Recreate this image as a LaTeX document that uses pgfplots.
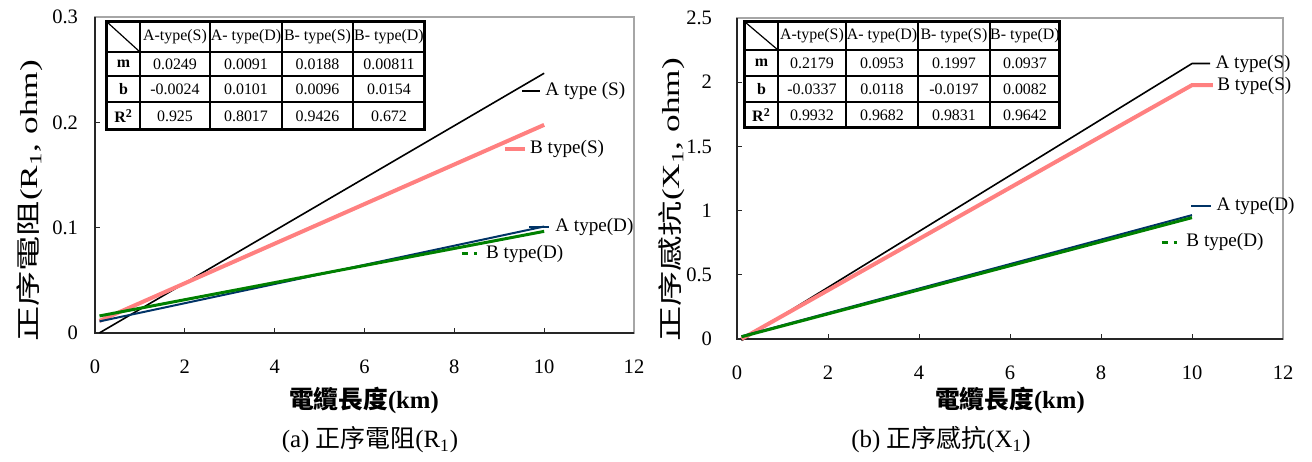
\documentclass[border=0pt]{standalone}
\usepackage{fontspec}
\setmainfont{Liberation Serif}
\newfontfamily\cjk{Noto Sans CJK TC}
\usepackage{graphicx}
\usepackage{pgfplots}
\pgfplotsset{compat=1.18}
\definecolor{pinkS}{HTML}{FF8080}
\definecolor{navyD}{HTML}{003366}
\definecolor{greenD}{HTML}{008000}
\pgfplotsset{mystyle/.style={
  scale only axis, anchor=south west,
  xmin=0, xmax=12, xtick={0,2,...,12},
  xtick pos=bottom, ytick pos=left,
  axis line style={draw=gray!70, line width=0.6bp},
  tick align=inside, major tick length=2.5bp,
  tick style={black!85, line width=0.5bp},
  /pgf/number format/assume math mode=true,
  ticklabel style={font=\fontsize{10.3}{12}\selectfont},
  xticklabel style={yshift=-10bp},
  yticklabel style={xshift=-5bp},
  clip=false,
}}
\newcommand{\lbl}{\fontsize{9.6}{11}\selectfont}
\begin{document}
\begin{tikzpicture}
% ---------- left axis ----------
\begin{axis}[mystyle, at={(47.5bp,64.5bp)}, width=269.5bp, height=158bp,
  ymin=0, ymax=0.3, ytick={0,0.1,0.2,0.3}]
\draw[black!85, line width=1bp] (rel axis cs:0,1) -- (rel axis cs:0,0) -- (rel axis cs:1,0);
\addplot[black, line width=0.8bp] coordinates {(0.1,0.0001) (10,0.2466)};
\addplot[pinkS, line width=2bp] coordinates {(0.1,0.0115) (10,0.1976)};
\addplot[navyD, line width=1bp] coordinates {(0.1,0.0110) (10,0.1011)};
\addplot[greenD, line width=1.5bp] coordinates {(0.1,0.0162) (10,0.0965)};
% keys
\addplot[black, line width=0.8bp] coordinates {(9.51,0.2298) (9.91,0.2298)};
\addplot[pinkS, line width=2bp] coordinates {(9.13,0.1747) (9.57,0.1747)};
\addplot[navyD, line width=1bp] coordinates {(9.66,0.1006) (10.11,0.1006)};
\addplot[greenD, line width=1.5bp, dash pattern=on 3bp off 3bp on 1.5bp off 3bp] coordinates {(8.17,0.075) (8.61,0.075)};
\node[anchor=west, inner sep=0pt, font=\lbl] at (axis cs:10.02,0.2298) {A type (S)};
\node[anchor=west, inner sep=0pt, font=\lbl] at (axis cs:9.68,0.1747) {B type(S)};
\node[anchor=west, inner sep=0pt, font=\lbl] at (axis cs:10.24,0.1006) {A type(D)};
\node[anchor=west, inner sep=0pt, font=\lbl] at (axis cs:8.70,0.075) {B type(D)};
\end{axis}
% ---------- right axis ----------
\begin{axis}[mystyle, at={(368.5bp,61.5bp)}, width=273bp, height=160.5bp,
  ymin=0, ymax=2.5, ytick={0,0.5,1,1.5,2,2.5}, yticklabel style={xshift=-4bp}]
\draw[black!85, line width=1bp] (rel axis cs:0,1) -- (rel axis cs:0,0) -- (rel axis cs:1,0);
\addplot[black, line width=0.8bp] coordinates {(0.1,-0.012) (10,2.1453) (10.40,2.1453)};
\addplot[pinkS, line width=2bp] coordinates {(0.1,0.0003) (10,1.9773) (10.46,1.9773)};
\addplot[navyD, line width=1bp] coordinates {(0.1,0.0213) (10,0.9648)};
\addplot[greenD, line width=1.5bp] coordinates {(0.1,0.0176) (10,0.9452)};
% keys
\addplot[navyD, line width=1bp] coordinates {(9.98,1.036) (10.42,1.036)};
\addplot[greenD, line width=1.5bp, dash pattern=on 3bp off 3bp on 1.5bp off 3bp] coordinates {(9.34,0.755) (9.76,0.755)};
\node[anchor=west, inner sep=0pt, font=\lbl] at (axis cs:10.51,2.142) {A type(S)};
\node[anchor=west, inner sep=0pt, font=\lbl] at (axis cs:10.55,1.970) {B type(S)};
\node[anchor=west, inner sep=0pt, font=\lbl] at (axis cs:10.53,1.036) {A type(D)};
\node[anchor=west, inner sep=0pt, font=\lbl] at (axis cs:9.87,0.755) {B type(D)};
\end{axis}
% ---------- annotations in pixel coordinates ----------
\begin{scope}[x=0.5bp, y=-0.5bp, yshift=231bp]
% left table
\fill[white] (107,22) rectangle (425,130);
\foreach \xx in {140,210,282,353} \draw[line width=0.6bp] (\xx,22) -- (\xx,130);
\foreach \yy in {52,76,102} \draw[line width=0.6bp] (107,\yy) -- (425,\yy);
\draw[line width=0.6bp] (107,22) -- (140,52);
\draw[line width=1.5bp] (107,22) rectangle (425,130);
\begin{scope}[every node/.style={font=\fontsize{8}{9}\selectfont, inner sep=0pt}]
\node at (175,37) {A-type(S)}; \node at (246,37) {A- type(D)};
\node at (317.5,37) {B- type(S)}; \node at (389,37) {B- type(D)};
\node at (123.5,64) {\bfseries m}; \node at (123.5,89) {\bfseries b}; \node at (123.5,116) {\bfseries R\textsuperscript{2}};
\node at (175,64) {0.0249}; \node at (246,64) {0.0091}; \node at (317.5,64) {0.0188}; \node at (389,64) {0.00811};
\node at (175,89) {-0.0024}; \node at (246,89) {0.0101}; \node at (317.5,89) {0.0096}; \node at (389,89) {0.0154};
\node at (175,116) {0.925}; \node at (246,116) {0.8017}; \node at (317.5,116) {0.9426}; \node at (389,116) {0.672};
\end{scope}
% right table
\fill[white] (745,22) rectangle (1060,128);
\foreach \xx in {778,846,918,990} \draw[line width=0.6bp] (\xx,22) -- (\xx,128);
\foreach \yy in {50,76,102} \draw[line width=0.6bp] (745,\yy) -- (1060,\yy);
\draw[line width=0.6bp] (745,22) -- (778,50);
\draw[line width=1.5bp] (745,22) rectangle (1060,128);
\begin{scope}[every node/.style={font=\fontsize{8}{9}\selectfont, inner sep=0pt}]
\node at (812,36) {A-type(S)}; \node at (882,36) {A- type(D)};
\node at (954,36) {B- type(S)}; \node at (1025,36) {B- type(D)};
\node at (761.5,63) {\bfseries m}; \node at (761.5,89) {\bfseries b}; \node at (761.5,115) {\bfseries R\textsuperscript{2}};
\node at (812,63) {0.2179}; \node at (882,63) {0.0953}; \node at (954,63) {0.1997}; \node at (1025,63) {0.0937};
\node at (812,89) {-0.0337}; \node at (882,89) {0.0118}; \node at (954,89) {-0.0197}; \node at (1025,89) {0.0082};
\node at (812,115) {0.9932}; \node at (882,115) {0.9682}; \node at (954,115) {0.9831}; \node at (1025,115) {0.9642};
\end{scope}
% axis labels
\node[font=\fontsize{12.4}{14}\selectfont\bfseries] at (364,400) {{\cjk 電纜長度}(km)};
\node[font=\fontsize{12.4}{14}\selectfont\bfseries] at (1010,400) {{\cjk 電纜長度}(km)};
\node[rotate=90] at (30,201) {\scalebox{1.22}[0.85]{\fontsize{14.5}{16}\selectfont{\cjk 正序電阻}(R\textsubscript{1}, ohm)}};
\node[rotate=90] at (672,200) {\scalebox{1.22}[0.85]{\fontsize{14.5}{16}\selectfont{\cjk 正序感抗}(X\textsubscript{1}, ohm)}};
% captions
\node[font=\fontsize{12.5}{14}\selectfont] at (370,440) {(a) {\cjk 正序電阻}(R\textsubscript{1})};
\node[font=\fontsize{12.5}{14}\selectfont] at (941,440) {(b) {\cjk 正序感抗}(X\textsubscript{1})};
\end{scope}
\pgfresetboundingbox
\useasboundingbox (0,0) rectangle (656bp,231bp);
\end{tikzpicture}
\end{document}
